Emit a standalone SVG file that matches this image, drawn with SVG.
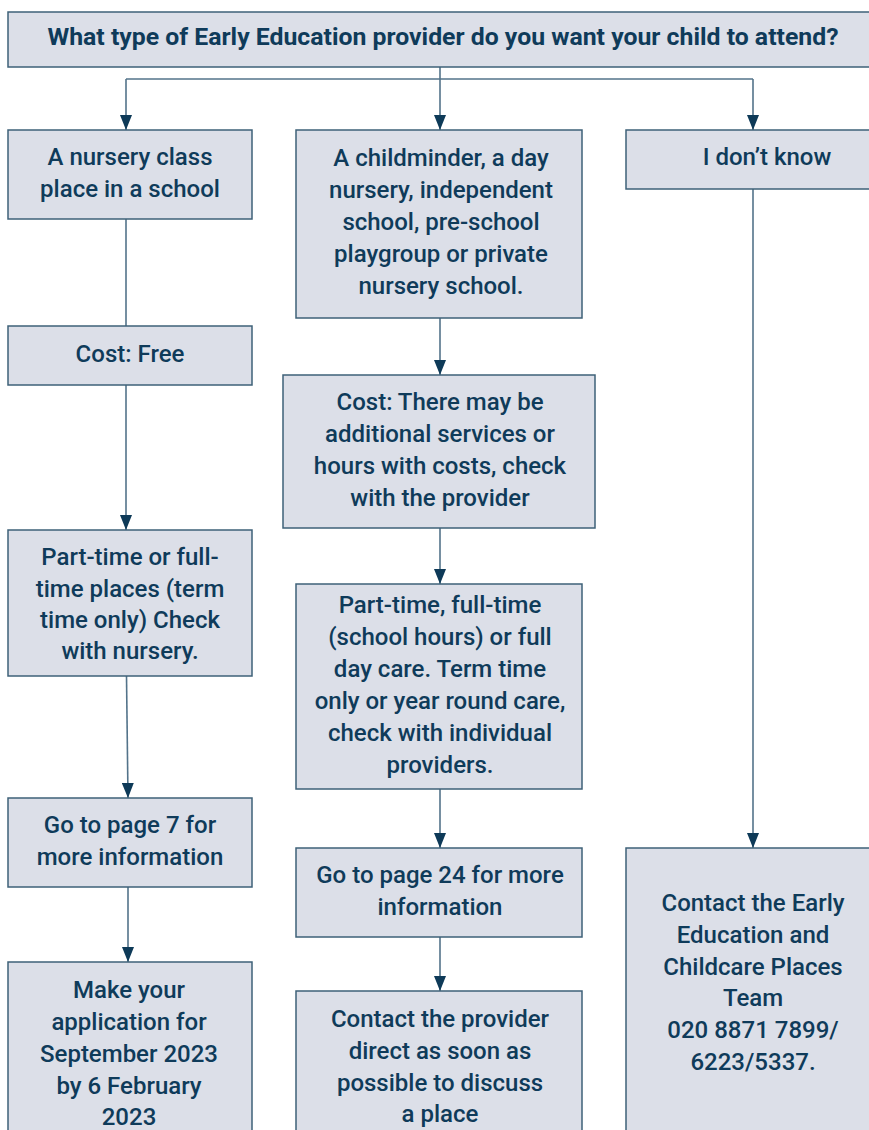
<svg xmlns="http://www.w3.org/2000/svg" width="869" height="1130" viewBox="0 0 869 1130">
<defs>
<style>
.box{fill:#dcdfe8;stroke:#3e6178;stroke-width:1.5}
.t{font-family:Roboto,"Liberation Sans",sans-serif;font-weight:500;font-size:24px;fill:#0f3b5a;text-anchor:middle}
.title{font-weight:700;font-size:24.8px}
.ln{fill:none;stroke:#53738a;stroke-width:1.6}
</style>
<marker id="ah" viewBox="0 0 15 12" refX="15" refY="6" markerWidth="15" markerHeight="12" markerUnits="userSpaceOnUse" orient="auto">
<path d="M0,0 L15,6 L0,12 Z" fill="#0e3a58"/>
</marker>
</defs>
<rect width="869" height="1130" fill="#ffffff"/>
<g id="connectors">
<path class="ln" d="M440,67 V79"/>
<path class="ln" d="M126,79 H753"/>
<path class="ln" d="M126,79 V130" marker-end="url(#ah)"/>
<path class="ln" d="M440,79 V130" marker-end="url(#ah)"/>
<path class="ln" d="M753,79 V130" marker-end="url(#ah)"/>
<path class="ln" d="M126,219 V326"/>
<path class="ln" d="M126,385 V530" marker-end="url(#ah)"/>
<path class="ln" d="M126.5,676 L128,798" marker-end="url(#ah)"/>
<path class="ln" d="M128,887 V962" marker-end="url(#ah)"/>
<path class="ln" d="M440,318 V375" marker-end="url(#ah)"/>
<path class="ln" d="M440,528 V584" marker-end="url(#ah)"/>
<path class="ln" d="M440,789 V848" marker-end="url(#ah)"/>
<path class="ln" d="M440,937 V991" marker-end="url(#ah)"/>
<path class="ln" d="M753,189 V848" marker-end="url(#ah)"/>
</g>
<g id="n-title">
<rect class="box" x="8" y="12" width="880" height="55"/>
<text class="t title" x="443" y="44.5">What type of Early Education provider do you want your child to attend?</text>
</g>
<g id="n-nursery">
<rect class="box" x="8" y="130" width="244" height="89"/>
<text class="t" x="130" y="165">A nursery class</text>
<text class="t" x="130" y="197">place in a school</text>
</g>
<g id="n-cost-free">
<rect class="box" x="8" y="326" width="244" height="59"/>
<text class="t" x="130" y="362">Cost: Free</text>
</g>
<g id="n-parttime-left">
<rect class="box" x="8" y="530" width="244" height="146"/>
<text class="t" x="130" y="565">Part-time or full-</text>
<text class="t" x="130" y="597">time places (term</text>
<text class="t" x="130" y="628">time only) Check</text>
<text class="t" x="130" y="659">with nursery.</text>
</g>
<g id="n-page7">
<rect class="box" x="8" y="798" width="244" height="89"/>
<text class="t" x="130" y="833">Go to page 7 for</text>
<text class="t" x="130" y="865">more information</text>
</g>
<g id="n-apply">
<rect class="box" x="8" y="962" width="244" height="190"/>
<text class="t" x="129" y="998">Make your</text>
<text class="t" x="129" y="1030">application for</text>
<text class="t" x="129" y="1062">September 2023</text>
<text class="t" x="129" y="1094">by 6 February</text>
<text class="t" x="129" y="1125">2023</text>
</g>
<g id="n-childminder">
<rect class="box" x="296" y="130" width="286" height="188"/>
<text class="t" x="441" y="166">A childminder, a day</text>
<text class="t" x="441" y="198">nursery, independent</text>
<text class="t" x="441" y="230">school, pre-school</text>
<text class="t" x="441" y="262">playgroup or private</text>
<text class="t" x="441" y="294">nursery school.</text>
</g>
<g id="n-cost-extra">
<rect class="box" x="283" y="375" width="312" height="153"/>
<text class="t" x="440" y="410">Cost: There may be</text>
<text class="t" x="440" y="442">additional services or</text>
<text class="t" x="440" y="474">hours with costs, check</text>
<text class="t" x="440" y="506">with the provider</text>
</g>
<g id="n-parttime-mid">
<rect class="box" x="296" y="584" width="286" height="205"/>
<text class="t" x="440" y="613">Part-time, full-time</text>
<text class="t" x="440" y="645">(school hours) or full</text>
<text class="t" x="440" y="677">day care. Term time</text>
<text class="t" x="440" y="709">only or year round care,</text>
<text class="t" x="440" y="741">check with individual</text>
<text class="t" x="440" y="773">providers.</text>
</g>
<g id="n-page24">
<rect class="box" x="296" y="848" width="286" height="89"/>
<text class="t" x="440" y="883">Go to page 24 for more</text>
<text class="t" x="440" y="915">information</text>
</g>
<g id="n-contact-provider">
<rect class="box" x="296" y="991" width="286" height="160"/>
<text class="t" x="440" y="1027">Contact the provider</text>
<text class="t" x="440" y="1059">direct as soon as</text>
<text class="t" x="440" y="1091">possible to discuss</text>
<text class="t" x="440" y="1122">a place</text>
</g>
<g id="n-dontknow">
<rect class="box" x="626" y="130" width="260" height="59"/>
<text class="t" x="767" y="165">I don’t know</text>
</g>
<g id="n-contact-team">
<rect class="box" x="626" y="848" width="260" height="300"/>
<text class="t" x="753" y="911">Contact the Early</text>
<text class="t" x="753" y="943">Education and</text>
<text class="t" x="753" y="975">Childcare Places</text>
<text class="t" x="753" y="1006">Team</text>
<text class="t" x="753" y="1038">020 8871 7899/</text>
<text class="t" x="753" y="1070">6223/5337.</text>
</g>
</svg>
